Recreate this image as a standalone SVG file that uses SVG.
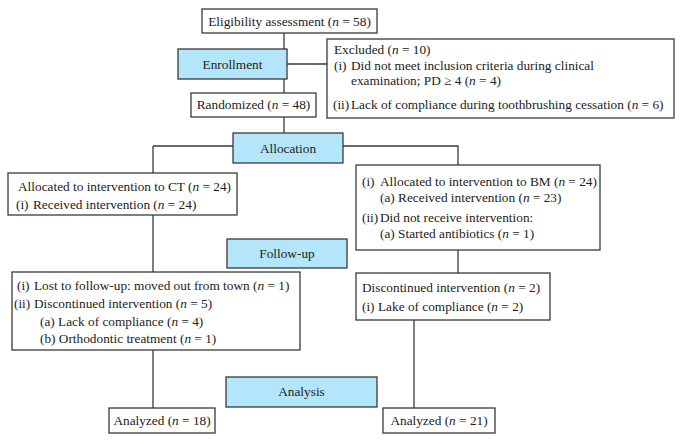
<svg xmlns="http://www.w3.org/2000/svg" width="680" height="442" viewBox="0 0 680 442">
<style>
.b{fill:#fff;stroke:#3a3a3a;stroke-width:1.3}
.s{fill:#b3e5fb;stroke:#3a3a3a;stroke-width:1.3}
.l{fill:none;stroke:#3a3a3a;stroke-width:1.3}
text{font-family:"Liberation Serif","Times New Roman",serif;font-size:13.3px;fill:#222}
.c{text-anchor:middle}
.i{font-style:italic}
</style>
<rect width="680" height="442" fill="#fff"/>
<g id="connectors">
<path class="l" d="M284,33V133M287,64H327M153,146H233M343,146H458V165M153,146V173M153,215V272M458,250V273M153,350V408M414,320V408"/>
</g>
<g id="eligibility"><rect class="b" x="202" y="9" width="175" height="24"/><text class="c" x="289.5" y="25.5">Eligibility assessment (<tspan class="i">n</tspan> = 58)</text></g>
<g id="enrollment"><rect class="s" x="178" y="49" width="109" height="30"/><text class="c" x="232.5" y="68.5">Enrollment</text></g>
<g id="excluded"><rect class="b" x="327" y="39" width="347" height="79"/>
<text x="334" y="54">Excluded (<tspan class="i">n</tspan> = 10)</text>
<text x="334" y="70">(i)</text><text x="351" y="70">Did not meet inclusion criteria during clinical</text>
<text x="351" y="85">examination; PD ≥ 4 (<tspan class="i">n</tspan> = 4)</text>
<text x="333" y="108.5">(ii)</text><text x="351" y="108.5">Lack of compliance during toothbrushing cessation (<tspan class="i">n</tspan> = 6)</text>
</g>
<g id="randomized"><rect class="b" x="191" y="93" width="125" height="24"/><text class="c" x="253.5" y="108.5">Randomized (<tspan class="i">n</tspan> = 48)</text></g>
<g id="allocation"><rect class="s" x="233" y="133" width="110" height="30"/><text class="c" x="288" y="152.5">Allocation</text></g>
<g id="ct"><rect class="b" x="8" y="173" width="229" height="42"/>
<text x="18" y="191">Allocated to intervention to CT (<tspan class="i">n</tspan> = 24)</text>
<text x="16" y="209">(i)</text><text x="33" y="209">Received intervention (<tspan class="i">n</tspan> = 24)</text>
</g>
<g id="bm"><rect class="b" x="356" y="165" width="244" height="85"/>
<text x="362" y="186">(i)</text><text x="380" y="186">Allocated to intervention to BM (<tspan class="i">n</tspan> = 24)</text>
<text x="380" y="202">(a) Received intervention (<tspan class="i">n</tspan> = 23)</text>
<text x="362" y="222">(ii)</text><text x="380" y="222">Did not receive intervention:</text>
<text x="380" y="238">(a) Started antibiotics (<tspan class="i">n</tspan> = 1)</text>
</g>
<g id="followup"><rect class="s" x="227" y="239" width="120" height="29"/><text class="c" x="287" y="258">Follow-up</text></g>
<g id="discontinued"><rect class="b" x="356" y="273" width="194" height="47"/>
<text x="362" y="292">Discontinued intervention (<tspan class="i">n</tspan> = 2)</text>
<text x="362" y="311">(i)</text><text x="378" y="311">Lake of compliance (<tspan class="i">n</tspan> = 2)</text>
</g>
<g id="lost"><rect class="b" x="12" y="272" width="288" height="78"/>
<text x="17" y="290">(i)</text><text x="34" y="290">Lost to follow-up: moved out from town (<tspan class="i">n</tspan> = 1)</text>
<text x="14" y="308">(ii)</text><text x="34" y="308">Discontinued intervention (<tspan class="i">n</tspan> = 5)</text>
<text x="40" y="326">(a) Lack of compliance (<tspan class="i">n</tspan> = 4)</text>
<text x="40" y="343">(b) Orthodontic treatment (<tspan class="i">n</tspan> = 1)</text>
</g>
<g id="analysis"><rect class="s" x="226" y="377" width="151" height="30"/><text class="c" x="301.5" y="396">Analysis</text></g>
<g id="analyzed-ct"><rect class="b" x="109" y="408" width="106" height="25"/><text class="c" x="162" y="425">Analyzed (<tspan class="i">n</tspan> = 18)</text></g>
<g id="analyzed-bm"><rect class="b" x="383" y="408" width="112" height="25"/><text class="c" x="439" y="425">Analyzed (<tspan class="i">n</tspan> = 21)</text></g>
</svg>
